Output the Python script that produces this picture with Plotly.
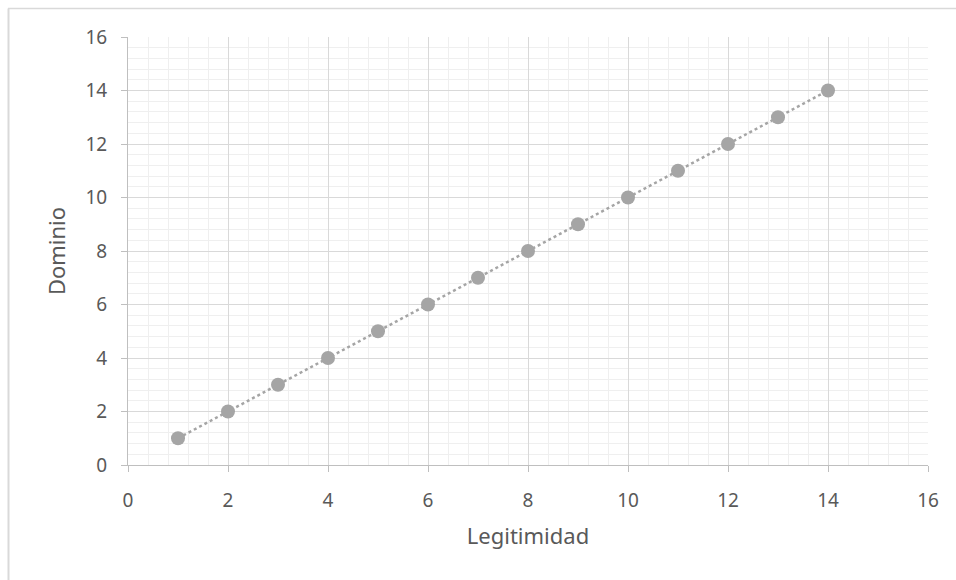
import numpy as np
import plotly.graph_objects as go

legitimidad = [1, 2, 3, 4, 5, 6, 7, 8, 9, 10, 11, 12, 13, 14]
dominio = [1, 2, 3, 4, 5, 6, 7, 8, 9, 10, 11, 12, 13, 14]
x_title = "Legitimidad"
y_title = "Dominio"

coef = np.polyfit(legitimidad, dominio, 1)
tx = np.array([min(legitimidad), max(legitimidad)], dtype=float)
ty = np.polyval(coef, tx)

fig = go.Figure()
fig.add_trace(go.Scatter(x=tx, y=ty, mode="lines",
                         line=dict(color="#A5A5A5", width=2.5, dash="dot"),
                         hoverinfo="skip", showlegend=False))
fig.add_trace(go.Scatter(x=legitimidad, y=dominio, mode="markers",
                         marker=dict(color="#A5A5A5", size=14),
                         showlegend=False))

fam = "Noto Sans, Open Sans, sans-serif"
font = dict(family=fam, size=19, color="#595959")
title_font = dict(family=fam, size=22, color="#595959")
axis_common = dict(
    range=[0, 16], dtick=2, tick0=0,
    showgrid=True, gridcolor="#D9D9D9", gridwidth=1,
    minor=dict(dtick=0.4, showgrid=True, gridcolor="#EFEFEF", gridwidth=1),
    showline=True, linecolor="#BFBFBF", linewidth=1,
    ticks="outside", ticklen=6, tickcolor="#BFBFBF",
    zeroline=False, tickfont=font, fixedrange=True,
)
fig.update_xaxes(**axis_common, ticklabelstandoff=12,
                 title=dict(text=x_title, font=title_font, standoff=16))
fig.update_yaxes(**axis_common, ticklabelstandoff=10,
                 title=dict(text=y_title, font=title_font, standoff=13))

fig.update_layout(
    width=956, height=580,
    margin=dict(l=128, r=28, t=37, b=115),
    plot_bgcolor="white", paper_bgcolor="white",
    shapes=[
        dict(type="line", xref="paper", yref="paper", x0=-0.15, x1=1.04, y0=(465-8.5)/428, y1=(465-8.5)/428,
             line=dict(color="#D9D9D9", width=1.5)),
        dict(type="line", xref="paper", yref="paper", x0=(8.5-128)/800, x1=(8.5-128)/800, y0=-0.3, y1=(465-8.5)/428,
             line=dict(color="#D9D9D9", width=2)),
    ],
)
fig.write_html("out.html")
